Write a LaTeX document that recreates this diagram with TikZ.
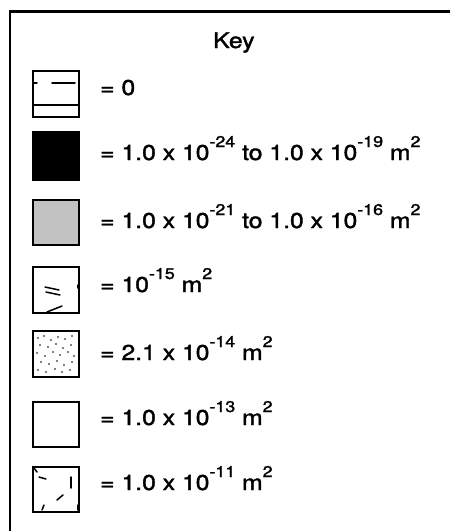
\documentclass[tikz,border=0pt]{standalone}
\usepackage{fontspec}
\setmainfont{texgyreheros-regular.otf}[BoldFont=texgyreheros-regular.otf,BoldFeatures={FakeBold=1.6}]
\newcommand{\sps}[1]{\raisebox{13pt}{\fontsize{15.5}{16}\selectfont\bfseries #1}}
\newcommand{\wide}[1]{\scalebox{1.15}[1]{\bfseries #1}}
\begin{document}
\begin{tikzpicture}[x=1pt,y=-1pt,
  keybox/.style={draw=black,line width=1.4pt},
  lbl/.style={anchor=base west,inner sep=0pt,font=\fontsize{21.5}{24}\selectfont},
  tick/.style={line width=1.5pt,line cap=round}]
\useasboundingbox (0,0) rectangle (450,531);
\fill[white] (0,0) rectangle (450,531);
% frame
\draw[line width=2.6pt] (10,540) -- (10,11.5) -- (460,11.5);
% title
\node[lbl] (title) at (213,48) {\wide{Key}};
% row 1
\draw[keybox] (33,71) rectangle (79,117);
\draw[tick] (52,83) -- (75,83);
\draw[tick] (33,83) -- (37,83);
\draw[line width=1.3pt] (33,105) -- (79,105);
\node[lbl] (t1) at (100,95) {\wide{= 0}};
% row 2
\draw[keybox,fill=black] (33,132) rectangle (79,180);
\node[lbl] (t2) at (100,160) {\wide{= 1.0 x 10\sps{-24} to 1.0 x 10\sps{-19} m\sps{2}}};
% row 3
\draw[keybox,fill=black!24] (33,200) rectangle (79,245);
\node[lbl] (t3) at (100,228) {\wide{= 1.0 x 10\sps{-21} to 1.0 x 10\sps{-16} m\sps{2}}};
% row 4
\draw[keybox] (33,267) rectangle (79,313);
\draw[tick] (45,287) -- (59,290);
\draw[tick] (46,292) -- (60,295);
\draw[tick] (47,312) -- (62,306);
\draw[tick] (78,285) -- (78,288);
\node[lbl] (t4) at (100,292) {\wide{= 10\sps{-15} m\sps{2}}};
% row 5
\draw[keybox] (33,331) rectangle (79,377);
\foreach \p in {(38,338),(44,336),(51,340),(58,337),(65,339),(72,336),(40,345),(48,347),(56,344),(63,348),(71,345),(37,353),(45,356),(53,352),(60,355),(68,352),(74,356),(41,362),(49,364),(57,361),(64,365),(72,362),(38,370),(46,372),(55,369),(62,372),(70,370)}
  \fill \p circle (0.9pt);
\node[lbl] (t5) at (100,360) {\wide{= 2.1 x 10\sps{-14} m\sps{2}}};
% row 6
\draw[keybox] (33,402) rectangle (79,447);
\node[lbl] (t6) at (100,425) {\wide{= 1.0 x 10\sps{-13} m\sps{2}}};
% row 7
\draw[keybox] (33,467) rectangle (79,512);
\draw[tick] (39,477) -- (46,479);
\draw[tick] (71,477) -- (71,488);
\draw[tick] (57,500) -- (63,495);
\draw[tick] (34,468) -- (37,472);
\draw[tick] (44,505) -- (42,510);
\draw[tick] (78,505) -- (78,510);
\node[lbl] (t7) at (100,490) {\wide{= 1.0 x 10\sps{-11} m\sps{2}}};
\end{tikzpicture}
\end{document}
